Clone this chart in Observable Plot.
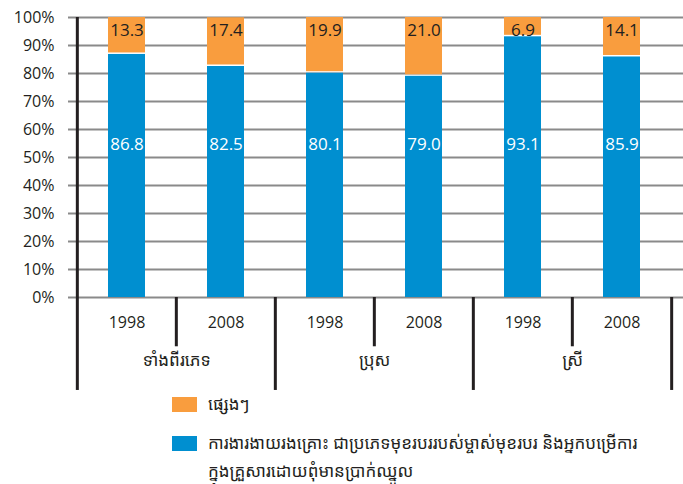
<!DOCTYPE html>
<html>
<head>
<meta charset="utf-8">
<script src="https://cdn.jsdelivr.net/npm/d3@7"></script>
<script src="https://cdn.jsdelivr.net/npm/@observablehq/plot@0.6"></script>
<style>
  html, body { margin: 0; padding: 0; background: #fff; overflow: hidden; width: 683px; height: 484px; }
  #chart svg { display: block; overflow: visible; }
  .legend { font-family: "Noto Sans Khmer", "Khmer OS", "Noto Sans", sans-serif; font-size: 17px; color: #231f20; white-space: nowrap; }
  .row { display: flex; align-items: flex-start; position: relative; left: 172px; }
  .sw { width: 25px; height: 15px; flex: none; margin-right: 11px; }
  .txt { line-height: 28px; margin-top: -7px; }
</style>
</head>
<body>
<div id="chart"></div>
<div class="legend" id="legend"></div>
<script>
const groups = ["ទាំងពីរភេទ", "ប្រុស", "ស្រី"];
const years = ["1998", "2008"];
const vulnerable = [86.8, 82.5, 80.1, 79.0, 93.1, 85.9];
const other = [13.3, 17.4, 19.9, 21.0, 6.9, 14.1];
const seriesNames = ["ការងារងាយរងគ្រោះ ជាប្រភេទមុខរបររបស់ម្ចាស់មុខរបរ និងអ្នកបម្រើការ", "ផ្សេងៗ"];
const legendLine2 = "ក្នុងគ្រួសារដោយពុំមានប្រាក់ឈ្នួល";
const seriesColors = ["#008fd0", "#f99d3e"];
const yTicks = [0, 10, 20, 30, 40, 50, 60, 70, 80, 90, 100];

const rows = vulnerable.map((v, i) => ({
  key: groups[Math.floor(i / 2)] + " " + years[i % 2],
  group: groups[Math.floor(i / 2)],
  year: years[i % 2],
  first: i % 2 === 0,
  vulnerable: v,
  other: other[i]
}));
const keys = rows.map(d => d.key);

const x0 = 76, x1 = 672;
const step = (x1 - x0) / keys.length;
const ink = "#231f20";
const num = "'Open Sans', 'Noto Sans', sans-serif";
const khmer = "'Noto Sans Khmer', 'Khmer OS', 'Noto Sans', sans-serif";

const chart = Plot.plot({
  width: 683,
  height: 392,
  marginLeft: 68,
  marginRight: 0,
  marginTop: 17,
  marginBottom: 95,
  style: {fontFamily: num, color: ink, background: "transparent"},
  x: {domain: keys, range: [x0, x1], paddingInner: 0.627, paddingOuter: 0.3135, axis: null},
  y: {domain: [0, 100], range: [297, 17], axis: null},
  color: {domain: seriesNames, range: seriesColors},
  marks: [
    Plot.ruleY(yTicks, {stroke: "#8a8a8a", strokeWidth: 1.8}),
    Plot.axisY(yTicks, {tickSize: 0, tickPadding: 14, fontSize: 16, fill: ink, tickFormat: d => d + "%", label: null}),
    Plot.barY(rows, {x: "key", y1: 0, y2: "vulnerable", fill: seriesColors[0]}),
    Plot.barY(rows, {x: "key", y1: "vulnerable", y2: d => Math.min(100, d.vulnerable + d.other), fill: seriesColors[1], insetBottom: 1.5}),
    Plot.text(rows, {x: "key", y: () => 54.8, text: d => d.vulnerable.toFixed(1), fill: "white", fontSize: 17, fontFamily: num}),
    Plot.text(rows, {x: "key", y: () => 95.2, text: d => d.other.toFixed(1), fill: ink, fontSize: 17, fontFamily: num}),
    // left axis line
    Plot.ruleX([keys[0]], {x: d => d, y1: 100, y2: 0, dx: -step / 2, stroke: ink, strokeWidth: 3}),
    // long separators between groups
    Plot.ruleX(rows.filter(d => d.first), {x: "key", y1: 0, y2: -33.2, dx: -step / 2, stroke: ink, strokeWidth: 3}),
    Plot.ruleX([keys[keys.length - 1]], {x: d => d, y1: 0, y2: -33.2, dx: step / 2, stroke: ink, strokeWidth: 3}),
    // short separators between years
    Plot.ruleX(rows.filter(d => !d.first), {x: "key", y1: 0, y2: -17.6, dx: -step / 2, stroke: ink, strokeWidth: 3}),
    Plot.text(rows, {x: "key", y: () => -8.9, text: "year", fill: ink, fontSize: 16, fontFamily: num}),
    Plot.text(rows.filter(d => d.first), {x: "key", y: () => -22.5, dx: step / 2, text: "group", fill: ink, fontSize: 17, fontFamily: khmer})
  ]
});
document.getElementById("chart").appendChild(chart);

const legend = document.getElementById("legend");
legend.innerHTML = `
  <div class="row" style="margin-top:5px"><div class="sw" style="background:${seriesColors[1]}"></div><div class="txt">${seriesNames[1]}</div></div>
  <div class="row" style="margin-top:18px"><div class="sw" style="background:${seriesColors[0]}"></div><div class="txt">${seriesNames[0]}<br>${legendLine2}</div></div>
`;
</script>
</body>
</html>
